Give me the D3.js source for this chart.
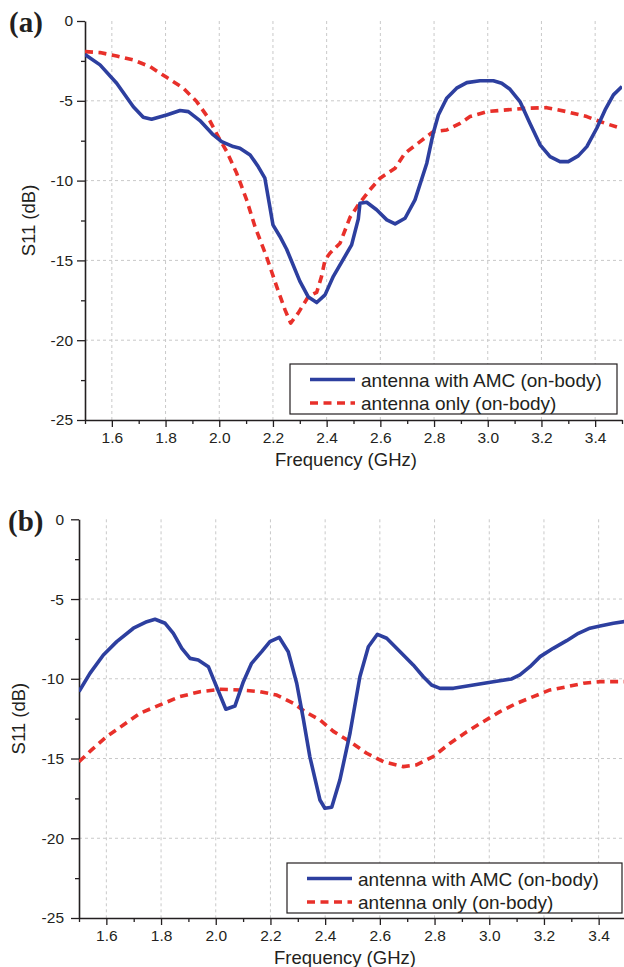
<!DOCTYPE html>
<html>
<head>
<meta charset="utf-8">
<script src="https://cdn.jsdelivr.net/npm/d3@7"></script>
<style>
  html, body { margin: 0; padding: 0; background: #fff; }
  svg { display: block; }
  text { font-family: "Liberation Sans", Arial, sans-serif; fill: #231f20; }
  text.tag { font-family: "Liberation Serif", "Times New Roman", serif; font-weight: bold; }
</style>
</head>
<body>
<svg id="chart" width="624" height="967"></svg>
<script>
// Tick values and axis labels
const xMajorTicks = [1.6, 1.8, 2.0, 2.2, 2.4, 2.6, 2.8, 3.0, 3.2, 3.4];
const xMinorTicks = [1.5, 1.7, 1.9, 2.1, 2.3, 2.5, 2.7, 2.9, 3.1, 3.3, 3.5];
const yMajorTicks = [0, -5, -10, -15, -20, -25];
const yMinorTicks = [-2.5, -7.5, -12.5, -17.5, -22.5];
const seriesNames = ["antenna with AMC (on-body)", "antenna only (on-body)"];

// Panel (a): measured S11 in dB against frequency in GHz
const freqA_amc = [1.50, 1.556, 1.618, 1.68, 1.717, 1.748, 1.804, 1.854, 1.885, 1.928, 1.978, 2.009, 2.052, 2.077, 2.115, 2.145, 2.17, 2.186, 2.20, 2.226, 2.251, 2.30, 2.332, 2.363, 2.394, 2.425, 2.493, 2.518, 2.524, 2.549, 2.586, 2.624, 2.655, 2.692, 2.729, 2.773, 2.797, 2.816, 2.847, 2.884, 2.922, 2.971, 3.021, 3.052, 3.083, 3.12, 3.157, 3.195, 3.232, 3.269, 3.30, 3.337, 3.369, 3.406, 3.437, 3.468, 3.50];
const s11A_amc  = [-2.1, -2.75, -3.9, -5.37, -6.03, -6.16, -5.89, -5.61, -5.68, -6.24, -7.14, -7.56, -7.87, -7.97, -8.39, -9.12, -9.85, -11.4, -12.77, -13.5, -14.3, -16.3, -17.3, -17.64, -17.16, -16.0, -14.03, -12.4, -11.42, -11.36, -11.83, -12.46, -12.71, -12.36, -11.21, -8.91, -7.03, -5.89, -4.84, -4.21, -3.86, -3.74, -3.74, -3.9, -4.28, -5.05, -6.41, -7.76, -8.5, -8.81, -8.81, -8.45, -7.87, -6.72, -5.57, -4.63, -4.11];

const freqA_only = [1.50, 1.556, 1.618, 1.68, 1.742, 1.804, 1.866, 1.916, 1.96, 1.996, 2.028, 2.065, 2.102, 2.133, 2.176, 2.214, 2.245, 2.266, 2.294, 2.332, 2.363, 2.381, 2.394, 2.412, 2.45, 2.487, 2.518, 2.561, 2.599, 2.655, 2.692, 2.748, 2.797, 2.847, 2.897, 2.934, 2.996, 3.07, 3.145, 3.22, 3.294, 3.369, 3.418, 3.50];
const s11A_only  = [-1.92, -1.98, -2.19, -2.44, -2.86, -3.53, -4.21, -5.05, -6.09, -7.24, -8.18, -9.54, -11.21, -12.88, -14.76, -16.64, -18.1, -18.93, -18.3, -17.26, -17.0, -16.0, -14.97, -14.55, -13.92, -12.3, -11.52, -10.58, -9.85, -9.22, -8.28, -7.56, -6.93, -6.83, -6.41, -5.99, -5.68, -5.57, -5.47, -5.43, -5.68, -5.99, -6.3, -6.75];

// Panel (b)
const freqB_amc = [1.50, 1.54, 1.589, 1.638, 1.699, 1.748, 1.778, 1.815, 1.845, 1.876, 1.906, 1.936, 1.973, 2.003, 2.037, 2.07, 2.101, 2.131, 2.168, 2.198, 2.232, 2.265, 2.296, 2.32, 2.344, 2.381, 2.399, 2.424, 2.454, 2.491, 2.527, 2.558, 2.591, 2.625, 2.674, 2.722, 2.759, 2.789, 2.82, 2.869, 2.942, 3.015, 3.082, 3.112, 3.149, 3.186, 3.234, 3.283, 3.326, 3.368, 3.405, 3.454, 3.50];
const s11B_amc  = [-10.8, -9.66, -8.51, -7.67, -6.83, -6.42, -6.27, -6.52, -7.15, -8.09, -8.72, -8.82, -9.24, -10.5, -11.91, -11.71, -10.18, -9.03, -8.3, -7.67, -7.4, -8.3, -10.28, -12.5, -14.88, -17.6, -18.12, -18.06, -16.34, -13.4, -9.87, -7.99, -7.21, -7.46, -8.3, -9.13, -9.87, -10.39, -10.6, -10.6, -10.39, -10.18, -10.01, -9.76, -9.24, -8.61, -8.09, -7.61, -7.15, -6.83, -6.69, -6.52, -6.4];

const freqB_only = [1.50, 1.546, 1.601, 1.662, 1.723, 1.796, 1.869, 1.942, 2.016, 2.089, 2.162, 2.223, 2.284, 2.33, 2.381, 2.43, 2.491, 2.552, 2.613, 2.686, 2.734, 2.795, 2.857, 2.918, 2.978, 3.039, 3.1, 3.161, 3.222, 3.283, 3.344, 3.405, 3.50];
const s11B_only  = [-15.2, -14.46, -13.63, -12.9, -12.16, -11.64, -11.12, -10.81, -10.66, -10.7, -10.81, -11.02, -11.54, -12.1, -12.58, -13.3, -13.94, -14.67, -15.2, -15.51, -15.4, -14.88, -14.04, -13.32, -12.69, -12.06, -11.54, -11.12, -10.7, -10.5, -10.28, -10.18, -10.18];

const BLUE = "#2d3f9f";
const RED = "#e8302a";
const INK = "#231f20";

const svg = d3.select("#chart");

function drawPanel(p) {
  const x = d3.scaleLinear().domain([1.5, 3.5]).range([p.left, p.right]);
  const y = d3.scaleLinear().domain([-25, 0]).range([p.bottom, p.top]);
  const g = svg.append("g");

  const clipId = "clip-" + p.id;
  g.append("clipPath").attr("id", clipId)
    .append("rect")
    .attr("x", p.left).attr("y", p.top - 4)
    .attr("width", p.right - p.left).attr("height", p.bottom - p.top + 4);

  // dashed grid
  const grid = g.append("g").attr("stroke", "#c9c9c9").attr("stroke-width", 1)
    .attr("stroke-dasharray", "3,3").attr("fill", "none");
  xMajorTicks.forEach(v => {
    grid.append("line").attr("x1", x(v)).attr("x2", x(v))
      .attr("y1", y(0)).attr("y2", y(-25));
  });
  yMajorTicks.filter(v => v !== 0 && v !== -25).forEach(v => {
    grid.append("line").attr("x1", x(1.5)).attr("x2", x(3.5))
      .attr("y1", y(v)).attr("y2", y(v));
  });

  // axes
  const xAxis = d3.axisBottom(x).tickValues(xMajorTicks).tickFormat(d3.format(".1f"))
    .tickSizeInner(7).tickSizeOuter(0).tickPadding(5);
  const xg = g.append("g").attr("transform", `translate(0,${p.bottom})`).call(xAxis);
  xg.select(".domain").attr("stroke", INK).attr("stroke-width", 1.6);
  xg.selectAll(".tick line").attr("stroke", INK).attr("stroke-width", 1.3);
  xg.selectAll(".tick text").attr("font-size", 15.5).attr("fill", INK);
  const xMinor = d3.axisBottom(x).tickValues(xMinorTicks).tickFormat("").tickSizeInner(4).tickSizeOuter(0);
  const xmg = g.append("g").attr("transform", `translate(0,${p.bottom})`).call(xMinor);
  xmg.select(".domain").remove();
  xmg.selectAll(".tick line").attr("stroke", INK).attr("stroke-width", 1.3);

  const yAxis = d3.axisLeft(y).tickValues(yMajorTicks).tickFormat(d3.format("d"))
    .tickSizeInner(8).tickSizeOuter(0).tickPadding(p.yPad);
  const yg = g.append("g").attr("transform", `translate(${p.left},0)`).call(yAxis);
  yg.select(".domain").attr("stroke", INK).attr("stroke-width", 1.6);
  yg.selectAll(".tick line").attr("stroke", INK).attr("stroke-width", 1.3);
  yg.selectAll(".tick text").attr("font-size", 15.5).attr("fill", INK)
    .text(d => d === 0 ? "0" : "-" + Math.abs(d));
  const yMinor = d3.axisLeft(y).tickValues(yMinorTicks).tickFormat("").tickSizeInner(4).tickSizeOuter(0);
  const ymg = g.append("g").attr("transform", `translate(${p.left},0)`).call(yMinor);
  ymg.select(".domain").remove();
  ymg.selectAll(".tick line").attr("stroke", INK).attr("stroke-width", 1.3);

  // curves
  const line = d3.line().x(d => x(d[0])).y(d => y(d[1])).curve(d3.curveLinear);
  const plot = g.append("g").attr("clip-path", `url(#${clipId})`);
  plot.append("path").datum(d3.zip(p.fOnly, p.sOnly)).attr("d", line)
    .attr("fill", "none").attr("stroke", RED).attr("stroke-width", 3.6)
    .attr("stroke-dasharray", "8,5.5").attr("stroke-linejoin", "round");
  plot.append("path").datum(d3.zip(p.fAmc, p.sAmc)).attr("d", line)
    .attr("fill", "none").attr("stroke", BLUE).attr("stroke-width", 3.6)
    .attr("stroke-linejoin", "round");

  // axis titles
  g.append("text").attr("x", p.xTitleX).attr("y", p.xTitleY)
    .attr("text-anchor", "middle").attr("font-size", 18.5).text("Frequency (GHz)");
  g.append("text")
    .attr("transform", `translate(${p.yTitleX},${(p.top + p.bottom) / 2}) rotate(-90)`)
    .attr("text-anchor", "middle").attr("font-size", 18.5).text("S11 (dB)");

  // panel tag
  g.append("text").attr("class", "tag").attr("x", p.tagX).attr("y", p.tagY)
    .attr("font-size", 29).text(p.tag);

  // legend
  const L = p.legend;
  const lg = g.append("g");
  lg.append("rect").attr("x", L.x).attr("y", L.y).attr("width", L.w).attr("height", L.h)
    .attr("fill", "#fff").attr("stroke", INK).attr("stroke-width", 1.2);
  const rows = [
    { name: seriesNames[0], color: BLUE, dash: null },
    { name: seriesNames[1], color: RED, dash: "8,5.5" }
  ];
  rows.forEach((r, i) => {
    const cy = L.y + 15.5 + i * 23.5;
    lg.append("line").attr("x1", L.x + 20).attr("x2", L.x + 65)
      .attr("y1", cy).attr("y2", cy)
      .attr("stroke", r.color).attr("stroke-width", 3.6)
      .attr("stroke-dasharray", r.dash);
    lg.append("text").attr("x", L.x + 71).attr("y", cy + 7)
      .attr("font-size", 19).text(r.name);
  });
}

drawPanel({
  id: "a", tag: "(a)", tagX: 9, tagY: 32,
  left: 85, right: 622, top: 21, bottom: 420, yPad: 4,
  xTitleX: 346, xTitleY: 466, yTitleX: 35,
  legend: { x: 290, y: 364, w: 327, h: 50 },
  fAmc: freqA_amc, sAmc: s11A_amc, fOnly: freqA_only, sOnly: s11A_only
});

drawPanel({
  id: "b", tag: "(b)", tagX: 8, tagY: 531,
  left: 79, right: 626, top: 519.3, bottom: 918, yPad: 7,
  xTitleX: 345, xTitleY: 964, yTitleX: 25,
  legend: { x: 287, y: 863, w: 335, h: 50 },
  fAmc: freqB_amc, sAmc: s11B_amc, fOnly: freqB_only, sOnly: s11B_only
});
</script>
</body>
</html>
